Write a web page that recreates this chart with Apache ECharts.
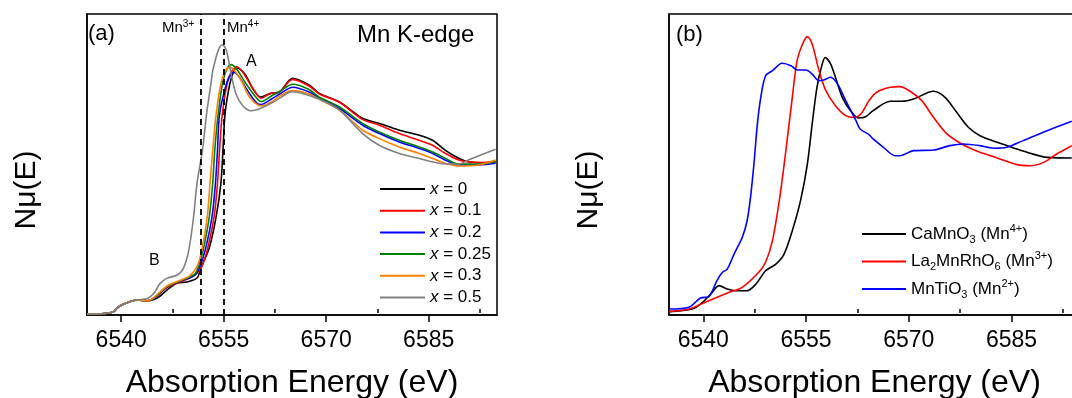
<!DOCTYPE html>
<html>
<head>
<meta charset="utf-8">
<script src="https://cdn.jsdelivr.net/npm/echarts@6/dist/echarts.min.js"></script>
<style>
  html, body { margin: 0; padding: 0; background: #fff; }
  #chart { width: 1072px; height: 398px; }
</style>
</head>
<body>
<div id="chart"></div>
<script>
// x axis ticks (eV)
const energyTicks = [6540, 6555, 6570, 6585]
const minorTicks = [6547.5, 6562.5, 6577.5, 6592.5]
const mnEdges = [6551.7, 6555.0] // Mn3+, Mn4+ reference lines

// panel (a): Mn K-edge, normalised mu
const preEdge = [[6535.0, -0.007], [6536.9, -0.005], [6538.0, -0.002], [6538.9, 0.009], [6539.4, 0.033], [6540.1, 0.053], [6540.9, 0.068], [6542.3, 0.086]]
const x0 = preEdge.concat([[6543.8, 0.081], [6544.8, 0.089], [6545.7, 0.112], [6546.7, 0.151], [6548.2, 0.197], [6549.6, 0.204], [6551.1, 0.230], [6551.7, 0.300], [6552.9, 0.430], [6553.9, 0.634], [6554.6, 0.855], [6554.9, 1.072], [6555.2, 1.309], [6555.9, 1.507], [6556.5, 1.594], [6556.9, 1.612], [6558.1, 1.572], [6559.3, 1.474], [6560.4, 1.421], [6561.9, 1.445], [6563.2, 1.456], [6565.1, 1.544], [6567.5, 1.500], [6569.0, 1.445], [6571.9, 1.390], [6575.3, 1.281], [6577.7, 1.248], [6580.6, 1.204], [6583.5, 1.171], [6585.5, 1.138], [6587.4, 1.072], [6589.4, 1.018], [6590.8, 0.995], [6592.8, 0.989], [6594.8, 0.995]])
const x01 = preEdge.concat([[6543.8, 0.081], [6544.8, 0.097], [6546.7, 0.168], [6548.2, 0.197], [6550.0, 0.230], [6551.1, 0.263], [6551.8, 0.305], [6552.6, 0.414], [6553.6, 0.634], [6554.1, 0.855], [6554.4, 1.072], [6554.8, 1.309], [6555.6, 1.528], [6556.4, 1.605], [6556.9, 1.620], [6557.8, 1.584], [6559.0, 1.495], [6560.0, 1.430], [6560.4, 1.413], [6561.9, 1.445], [6563.2, 1.454], [6565.1, 1.537], [6567.5, 1.493], [6569.0, 1.441], [6571.9, 1.388], [6575.3, 1.274], [6577.7, 1.237], [6580.6, 1.182], [6583.5, 1.138], [6585.5, 1.105], [6587.4, 1.051], [6589.4, 1.007], [6590.8, 0.995], [6592.8, 0.990], [6594.8, 0.995]])
const x02 = preEdge.concat([[6543.8, 0.081], [6544.8, 0.097], [6546.7, 0.171], [6549.1, 0.217], [6550.8, 0.250], [6551.5, 0.305], [6552.3, 0.414], [6553.3, 0.634], [6553.8, 0.855], [6554.1, 1.072], [6554.4, 1.309], [6555.4, 1.507], [6556.1, 1.572], [6556.5, 1.582], [6557.3, 1.551], [6558.5, 1.463], [6560.0, 1.375], [6560.5, 1.372], [6562.0, 1.408], [6563.2, 1.441], [6565.1, 1.485], [6567.5, 1.454], [6569.0, 1.413], [6571.9, 1.347], [6575.3, 1.237], [6577.7, 1.182], [6580.6, 1.127], [6583.5, 1.084], [6585.5, 1.051], [6587.4, 1.007], [6589.4, 0.974], [6592.3, 0.974], [6594.8, 0.985]])
const x025 = preEdge.concat([[6543.8, 0.081], [6544.8, 0.099], [6546.7, 0.174], [6549.1, 0.220], [6550.8, 0.257], [6551.3, 0.305], [6552.0, 0.414], [6552.9, 0.634], [6553.4, 0.855], [6553.7, 1.072], [6554.2, 1.309], [6554.9, 1.528], [6555.6, 1.616], [6556.1, 1.634], [6556.9, 1.605], [6558.3, 1.507], [6560.0, 1.405], [6560.5, 1.391], [6562.0, 1.428], [6563.2, 1.457], [6565.1, 1.505], [6567.5, 1.470], [6569.0, 1.419], [6571.9, 1.357], [6575.3, 1.248], [6577.7, 1.193], [6580.6, 1.138], [6583.5, 1.094], [6585.5, 1.061], [6587.4, 1.018], [6589.4, 0.980], [6592.3, 0.980], [6594.8, 0.995]])
const x03 = preEdge.concat([[6543.8, 0.081], [6544.8, 0.102], [6546.7, 0.178], [6549.1, 0.224], [6550.0, 0.243], [6551.1, 0.305], [6551.8, 0.414], [6552.6, 0.634], [6553.0, 0.855], [6553.4, 1.072], [6553.9, 1.309], [6554.7, 1.528], [6555.4, 1.605], [6555.9, 1.616], [6556.6, 1.594], [6557.6, 1.528], [6558.8, 1.419], [6560.5, 1.362], [6562.0, 1.388], [6563.2, 1.428], [6565.1, 1.463], [6567.5, 1.441], [6569.0, 1.406], [6571.9, 1.336], [6575.3, 1.204], [6577.7, 1.149], [6580.6, 1.094], [6583.5, 1.051], [6585.5, 1.018], [6587.4, 0.985], [6589.4, 0.967], [6592.3, 0.974], [6594.8, 1.007]])
const x05 = preEdge.concat([[6543.8, 0.095], [6544.8, 0.130], [6545.7, 0.195], [6546.7, 0.228], [6548.2, 0.250], [6549.1, 0.294], [6549.9, 0.414], [6550.6, 0.634], [6551.1, 0.855], [6551.9, 1.072], [6552.5, 1.309], [6553.2, 1.528], [6553.4, 1.594], [6554.2, 1.726], [6554.8, 1.765], [6555.4, 1.726], [6556.1, 1.572], [6556.8, 1.441], [6557.8, 1.364], [6559.0, 1.331], [6560.2, 1.342], [6562.2, 1.386], [6564.6, 1.452], [6565.1, 1.456], [6566.8, 1.441], [6569.0, 1.406], [6571.9, 1.336], [6575.3, 1.182], [6577.7, 1.105], [6580.6, 1.051], [6583.5, 1.018], [6585.5, 0.995], [6587.4, 0.980], [6589.4, 0.980], [6590.8, 1.007], [6594.8, 1.077]])

// panel (b): reference compounds
const camno3 = [[6535.0, 0.009], [6538.4, 0.026], [6539.9, 0.070], [6541.3, 0.136], [6542.3, 0.180], [6543.5, 0.158], [6544.7, 0.147], [6546.4, 0.147], [6547.7, 0.191], [6549.1, 0.278], [6550.6, 0.322], [6551.8, 0.388], [6553.0, 0.541], [6554.2, 0.739], [6555.2, 0.980], [6555.9, 1.243], [6556.6, 1.485], [6557.3, 1.627], [6557.8, 1.681], [6558.6, 1.638], [6559.3, 1.551], [6560.3, 1.419], [6561.5, 1.331], [6562.7, 1.283], [6563.7, 1.291], [6564.8, 1.331], [6567.3, 1.393], [6569.0, 1.393], [6570.7, 1.408], [6573.6, 1.459], [6575.3, 1.419], [6577.0, 1.320], [6578.7, 1.222], [6580.4, 1.166], [6582.9, 1.123], [6585.3, 1.086], [6587.7, 1.051], [6590.2, 1.024], [6593.8, 1.020]]
const la2mnrho6 = [[6535.0, 0.009], [6537.9, 0.026], [6540.8, 0.081], [6543.8, 0.136], [6545.7, 0.169], [6548.1, 0.268], [6549.1, 0.334], [6550.1, 0.476], [6551.1, 0.739], [6552.0, 1.046], [6553.0, 1.419], [6553.7, 1.660], [6554.5, 1.770], [6555.2, 1.818], [6555.9, 1.770], [6556.9, 1.594], [6557.9, 1.463], [6559.3, 1.364], [6560.8, 1.298], [6562.0, 1.286], [6563.0, 1.309], [6564.2, 1.397], [6565.3, 1.452], [6567.3, 1.485], [6568.7, 1.489], [6570.4, 1.452], [6571.9, 1.397], [6573.6, 1.288], [6575.5, 1.182], [6578.0, 1.105], [6580.4, 1.057], [6582.9, 1.020], [6585.8, 0.976], [6587.7, 0.969], [6589.7, 0.991], [6591.6, 1.046], [6593.8, 1.101]]
const mntio3 = [[6535.0, 0.026], [6537.9, 0.038], [6539.6, 0.099], [6540.8, 0.107], [6542.0, 0.213], [6542.8, 0.268], [6543.5, 0.289], [6544.5, 0.388], [6545.7, 0.498], [6546.4, 0.607], [6546.9, 0.761], [6547.4, 0.980], [6547.9, 1.243], [6548.4, 1.419], [6549.1, 1.561], [6550.1, 1.594], [6551.5, 1.643], [6552.8, 1.627], [6553.7, 1.599], [6555.0, 1.599], [6555.9, 1.572], [6556.9, 1.528], [6557.6, 1.533], [6558.6, 1.551], [6559.6, 1.507], [6560.8, 1.397], [6562.3, 1.265], [6562.9, 1.211], [6564.2, 1.173], [6564.8, 1.145], [6566.3, 1.090], [6568.0, 1.035], [6568.7, 1.035], [6570.7, 1.068], [6573.6, 1.072], [6576.0, 1.101], [6578.0, 1.112], [6580.4, 1.101], [6582.4, 1.084], [6584.3, 1.090], [6586.7, 1.134], [6590.2, 1.199], [6593.8, 1.261]]

const seriesA = [
  { name: 'x = 0', data: x0, color: '#000000' },
  { name: 'x = 0.1', data: x01, color: '#ff0000' },
  { name: 'x = 0.2', data: x02, color: '#0000ff' },
  { name: 'x = 0.25', data: x025, color: '#008000' },
  { name: 'x = 0.3', data: x03, color: '#ff8000' },
  { name: 'x = 0.5', data: x05, color: '#808080' }
]
const seriesB = [
  { name: 'CaMnO3 (Mn4+)', data: camno3, color: '#000000' },
  { name: 'La2MnRhO6 (Mn3+)', data: la2mnrho6, color: '#ff0000' },
  { name: 'MnTiO3 (Mn2+)', data: mntio3, color: '#0000ff' }
]
const richNamesB = {
  'CaMnO3 (Mn4+)': '{n|CaMnO}{sub|3}{n| (Mn}{sup|4+}{n|)}',
  'La2MnRhO6 (Mn3+)': '{n|La}{sub|2}{n|MnRhO}{sub|6}{n| (Mn}{sup|3+}{n|)}',
  'MnTiO3 (Mn2+)': '{n|MnTiO}{sub|3}{n| (Mn}{sup|2+}{n|)}'
}

const font = 'Arial, "Liberation Sans", sans-serif'

const mainX = (gridIndex) => ({
  type: 'value', gridIndex, min: 6535, max: 6595,
  name: 'Absorption Energy (eV)', nameLocation: 'middle', nameGap: 52,
  nameTextStyle: { fontFamily: font, fontSize: 32, color: '#000' },
  axisLine: { show: true, onZero: false, lineStyle: { color: '#000', width: 1.5 } },
  axisTick: { show: true, customValues: energyTicks, length: 7, lineStyle: { color: '#000', width: 1.5 } },
  axisLabel: { show: true, customValues: energyTicks, margin: 14, fontFamily: font, fontSize: 23, color: '#000', formatter: v => String(v) },
  splitLine: { show: false }
})
const minorX = (gridIndex) => ({
  type: 'value', gridIndex, min: 6535, max: 6595,
  axisLine: { show: false },
  axisTick: { show: true, customValues: minorTicks, length: 4, lineStyle: { color: '#000', width: 1.5 } },
  axisLabel: { show: false },
  splitLine: { show: false }
})
const yAx = (gridIndex) => ({
  type: 'value', gridIndex, min: -0.013, max: 1.967,
  axisLine: { show: true, onZero: false, lineStyle: { color: '#000', width: 1.5 } },
  axisTick: { show: false }, axisLabel: { show: false }, splitLine: { show: false }
})

const lineSeries = (s, xi, yi) => ({
  name: s.name, type: 'line', xAxisIndex: xi, yAxisIndex: yi,
  data: s.data, showSymbol: false, symbol: 'none', smooth: 0.3,
  color: s.color, lineStyle: { color: s.color, width: 1.6 }
})

const series = seriesA.map(s => lineSeries(s, 0, 0)).concat(seriesB.map(s => lineSeries(s, 2, 1)))
series[0].markLine = {
  silent: true, symbol: ['none', 'none'], label: { show: false },
  lineStyle: { color: '#000', type: [6, 4], width: 1.8 },
  data: mnEdges.map(v => ({ xAxis: v }))
}

const richA = {
  i: { fontFamily: font, fontSize: 17, fontStyle: 'italic', lineHeight: 20, color: '#000' },
  n: { fontFamily: font, fontSize: 17, lineHeight: 20, color: '#000' }
}
const richB = {
  n: { fontFamily: font, fontSize: 17, lineHeight: 22, color: '#000' },
  sub: { fontFamily: font, fontSize: 11, lineHeight: 11, verticalAlign: 'bottom', color: '#000' },
  sup: { fontFamily: font, fontSize: 11, lineHeight: 11, verticalAlign: 'top', color: '#000' }
}
const richMn = {
  b: { fontFamily: font, fontSize: 15, lineHeight: 18, color: '#000' },
  s: { fontFamily: font, fontSize: 10, lineHeight: 10, verticalAlign: 'top', color: '#000' }
}

const chart = echarts.init(document.getElementById('chart'))
chart.setOption({
  animation: false,
  backgroundColor: '#fff',
  grid: [
    { left: 87, top: 14, width: 410, height: 301, outerBoundsMode: 'none', show: true, borderColor: '#000', borderWidth: 1.5, backgroundColor: 'transparent' },
    { left: 669, top: 14, width: 411, height: 301, outerBoundsMode: 'none', show: true, borderColor: '#000', borderWidth: 1.5, backgroundColor: 'transparent' }
  ],
  xAxis: [mainX(0), minorX(0), mainX(1), minorX(1)],
  yAxis: [yAx(0), yAx(1)],
  legend: [
    {
      orient: 'vertical', left: 380, top: 179, padding: 0, icon: 'rect', itemWidth: 45, itemHeight: 2, itemGap: 1.7,
      selectedMode: false, data: seriesA.map(s => s.name),
      formatter: n => '{i|x}{n|' + n.slice(1) + '}',
      textStyle: { fontFamily: font, fontSize: 17, lineHeight: 20, color: '#000', rich: richA }
    },
    {
      orient: 'vertical', left: 862, top: 223, padding: 0, icon: 'rect', itemWidth: 44, itemHeight: 2, itemGap: 5.5,
      selectedMode: false, data: seriesB.map(s => s.name),
      formatter: n => richNamesB[n],
      textStyle: { fontFamily: font, fontSize: 17, lineHeight: 22, color: '#000', rich: richB }
    }
  ],
  graphic: [
    { type: 'text', left: 88, top: 23, style: { text: '(a)', font: '22px ' + font, fill: '#000' } },
    { type: 'text', left: 357, top: 23, style: { text: 'Mn K-edge', font: '24px ' + font, fill: '#000' } },
    { type: 'text', left: 162, top: 19, style: { text: '{b|Mn}{s|3+}', rich: richMn, fill: '#000' } },
    { type: 'text', left: 227, top: 19, style: { text: '{b|Mn}{s|4+}', rich: richMn, fill: '#000' } },
    { type: 'text', left: 246, top: 54, style: { text: 'A', font: '16px ' + font, fill: '#000' } },
    { type: 'text', left: 149, top: 253, style: { text: 'B', font: '16px ' + font, fill: '#000' } },
    { type: 'text', left: 676, top: 24, style: { text: '(b)', font: '22px ' + font, fill: '#000' } },
    { type: 'text', x: 27, y: 190, rotation: Math.PI / 2, style: { text: 'Nμ(E)', font: '30px ' + font, fill: '#000', align: 'center', verticalAlign: 'middle', textAlign: 'center', textVerticalAlign: 'middle' } },
    { type: 'text', x: 589, y: 190, rotation: Math.PI / 2, style: { text: 'Nμ(E)', font: '30px ' + font, fill: '#000', align: 'center', verticalAlign: 'middle', textAlign: 'center', textVerticalAlign: 'middle' } }
  ],
  series
})
</script>
</body>
</html>
